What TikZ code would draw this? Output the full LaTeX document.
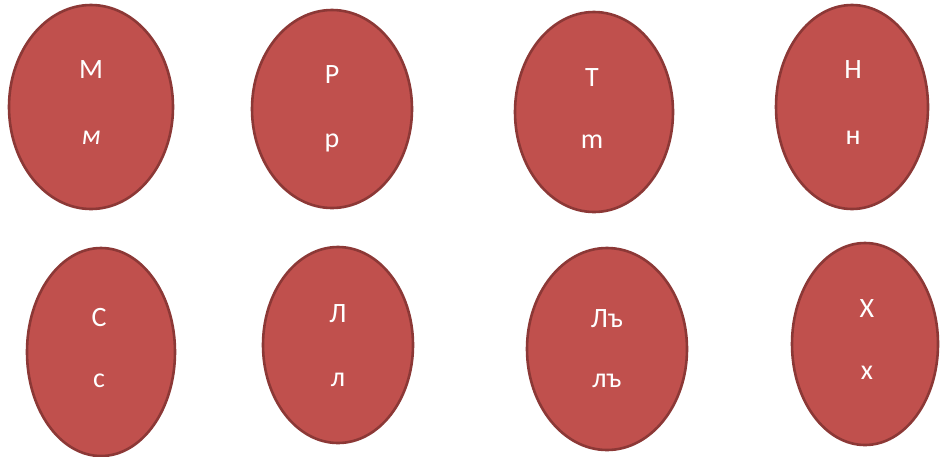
\documentclass[tikz,border=0pt]{standalone}
\usepackage{fontspec}
\setmainfont{Carlito}
\usetikzlibrary{shapes.geometric}

\definecolor{eggfill}{HTML}{C0504D}
\definecolor{eggline}{HTML}{8C3836}

\tikzset{
  egg/.style={ellipse, draw=eggline, line width=2.6pt, fill=eggfill, inner sep=0pt},
  letter/.style={text=white, font=\fontsize{28}{28}\selectfont, inner sep=0pt, anchor=base}
}

\begin{document}
\begin{tikzpicture}[x=1pt, y=-1pt]
  \useasboundingbox (0,0) rectangle (941,456);
  \fill[white] (0,0) rectangle (941,456);

  % ellipses: centre, width, height
  \node[egg, minimum width=164pt, minimum height=204pt] (e1) at (91,107) {};
  \node[egg, minimum width=160pt, minimum height=198pt] (e2) at (332,109) {};
  \node[egg, minimum width=158pt, minimum height=200pt] (e3) at (594,112) {};
  \node[egg, minimum width=152pt, minimum height=204pt] (e4) at (852,107) {};
  \node[egg, minimum width=148pt, minimum height=208pt] (e5) at (101,352) {};
  \node[egg, minimum width=150pt, minimum height=196pt] (e6) at (338,345) {};
  \node[egg, minimum width=160pt, minimum height=202pt] (e7) at (607,349) {};
  \node[egg, minimum width=146pt, minimum height=202pt] (e8) at (865,344) {};

  % upper-case letters
  \node[letter] (u1) at (91,78) {М};
  \node[letter] (u2) at (332,83) {Р};
  \node[letter] (u3) at (592,86) {Т};
  \node[letter] (u4) at (853,78) {Н};
  \node[letter] (u5) at (99,326) {С};
  \node[letter] (u6) at (338,322) {Л};
  \node[letter] (u7) at (607,327) {Лъ};
  \node[letter] (u8) at (867,317) {Х};

  % lower-case letters
  \node[letter] (l1) at (91,144) {\itshape м};
  \node[letter] (l2) at (332,147) {р};
  \node[letter] (l3) at (592,148) {m};
  \node[letter] (l4) at (853,144) {н};
  \node[letter] (l5) at (99,387) {с};
  \node[letter] (l6) at (338,386) {л};
  \node[letter] (l7) at (607,387) {лъ};
  \node[letter] (l8) at (867,379) {х};
\end{tikzpicture}
\end{document}
